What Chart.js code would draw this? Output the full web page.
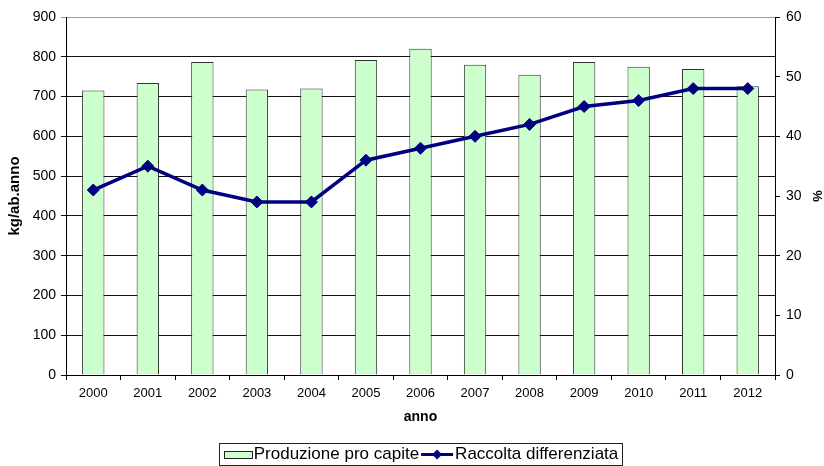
<!DOCTYPE html>
<html>
<head>
<meta charset="utf-8">
<script src="https://cdn.jsdelivr.net/npm/chart.js@4.4.1/dist/chart.umd.min.js"></script>
<style>
html,body{margin:0;padding:0;background:#fff;}
#wrap{width:824px;height:466px;position:relative;}
</style>
</head>
<body>
<div id="wrap"><canvas id="c" width="824" height="466"></canvas></div>
<script>
const categories = ['2000','2001','2002','2003','2004','2005','2006','2007','2008','2009','2010','2011','2012'];
const produzione = [715, 734, 787, 718, 720, 792, 820, 780, 755, 787, 775, 769, 726];
const raccolta = [31, 35, 31, 29, 29, 36, 38, 40, 42, 45, 46, 48, 48];
const leftTicks = {min: 0, max: 900, step: 100};
const rightTicks = {min: 0, max: 60, step: 10};

const FONT = "'Liberation Sans', Arial, sans-serif";
Chart.defaults.font.family = FONT;
Chart.defaults.color = '#000';

const LEG_FONT = 17;
const LEG_BOX = 22.5;
const LEG_PAD = 5;

const legendPlugin = {
  id: 'legendDeco',
  afterLayout(chart) {
    const lg = chart.legend;
    if (!lg) return;
    const dy = 454.5 - (lg.top + LEG_PAD + LEG_FONT / 2);
    const ca = chart.chartArea;
    const dx = (ca.left + ca.right) / 2 - (lg.left + lg.right) / 2;
    lg.top += dy; lg.bottom += dy;
    lg.left += dx; lg.right += dx;
  },
  afterDraw(chart) {
    const lg = chart.legend;
    if (!lg || !lg.legendHitBoxes) return;
    const ctx = chart.ctx;
    const hb = lg.legendHitBoxes;
    const items = lg.legendItems;
    const off = LEG_BOX + LEG_FONT / 2;
    const cy = hb[0].top + hb[0].height / 2;
    ctx.save();
    const t0 = hb[0].left + off;
    const last = hb[hb.length - 1];
    const bl = Math.round(t0 - 35) + 0.5;
    const br = Math.round(last.left + last.width + 4) + 0.5;
    const bt = Math.round(cy - 11.5) + 0.5;
    const bb = 465.5;
    ctx.strokeStyle = '#222';
    ctx.lineWidth = 1;
    ctx.strokeRect(bl, bt, br - bl, bb - bt);
    hb.forEach((b, i) => {
      const tx = b.left + off;
      const ds = chart.data.datasets[items[i].datasetIndex];
      if (ds.type === 'bar') {
        ctx.fillStyle = ds.backgroundColor;
        ctx.fillRect(Math.round(tx - 30), Math.round(cy - 3.5), 29, 8);
        ctx.strokeStyle = '#222';
        ctx.lineWidth = 1;
        ctx.strokeRect(Math.round(tx - 30) + 0.5, Math.round(cy - 3.5) + 0.5, 28, 7);
      } else {
        ctx.strokeStyle = ds.borderColor;
        ctx.lineWidth = 3;
        ctx.beginPath();
        ctx.moveTo(tx - 34, cy);
        ctx.lineTo(tx - 2, cy);
        ctx.stroke();
        ctx.fillStyle = ds.borderColor;
        const cx = tx - 18, s = 5;
        ctx.beginPath();
        ctx.moveTo(cx, cy - s); ctx.lineTo(cx + s, cy); ctx.lineTo(cx, cy + s); ctx.lineTo(cx - s, cy); ctx.closePath();
        ctx.fill();
      }
    });
    ctx.restore();
  }
};

new Chart(document.getElementById('c'), {
  data: {
    labels: categories,
    datasets: [
      {
        type: 'line',
        label: 'Raccolta differenziata',
        data: raccolta,
        yAxisID: 'y1',
        borderColor: '#000080',
        backgroundColor: '#000080',
        borderWidth: 3.5,
        pointStyle: 'rectRot',
        pointRadius: 6,
        pointHoverRadius: 6,
        pointBackgroundColor: '#000080',
        pointBorderColor: '#000080',
        pointBorderWidth: 1,
        tension: 0,
        order: 0
      },
      {
        type: 'bar',
        label: 'Produzione pro capite',
        data: produzione,
        yAxisID: 'y',
        backgroundColor: '#ccffcc',
        borderColor: '#333333',
        borderWidth: 1,
        categoryPercentage: 1.0,
        barPercentage: 0.41,
        order: 1
      }
    ]
  },
  options: {
    responsive: false,
    animation: false,
    layout: {padding: {top: 17, left: 0, right: 0, bottom: 0}},
    plugins: {
      tooltip: {enabled: false},
      legend: {
        position: 'bottom',
        reverse: true,
        labels: {
          boxWidth: LEG_BOX,
          boxHeight: 8,
          padding: LEG_PAD,
          font: {size: LEG_FONT, family: FONT},
          color: '#000',
          generateLabels(chart) {
            return chart.data.datasets.map((ds, i) => ({
              text: ds.label,
              fillStyle: 'rgba(0,0,0,0)',
              strokeStyle: 'rgba(0,0,0,0)',
              lineWidth: 0,
              hidden: false,
              datasetIndex: i
            }));
          }
        }
      }
    },
    scales: {
      x: {
        offset: true,
        grid: {offset: true, drawOnChartArea: false, drawTicks: true, tickLength: 5, color: '#000'},
        border: {color: '#000'},
        ticks: {font: {size: 13}, padding: 6, maxRotation: 0},
        title: {display: true, text: 'anno', font: {size: 14, weight: 'bold'}, padding: {top: 4, bottom: 8}},
        afterFit(s) { s.height = 59; }
      },
      y: {
        position: 'left',
        min: leftTicks.min, max: leftTicks.max,
        ticks: {stepSize: leftTicks.step, font: {size: 14}, padding: 5},
        grid: {
          color: ctx => (ctx.tick && ctx.tick.value === 900) ? '#9a9a9a' : '#111',
          tickLength: 5
        },
        border: {color: '#000'},
        title: {display: true, text: 'kg/ab.anno', font: {size: 15, weight: 'bold'}, padding: {top: 6, bottom: 0}},
        afterFit(s) { s.width = 66; }
      },
      y1: {
        position: 'right',
        min: rightTicks.min, max: rightTicks.max,
        ticks: {stepSize: rightTicks.step, font: {size: 14}, padding: 6},
        grid: {drawOnChartArea: false, tickLength: 5, color: '#000'},
        border: {color: '#000'},
        title: {display: true, text: '%', font: {size: 13, weight: 'bold'}, padding: {top: 0, bottom: 0}},
        afterFit(s) { s.width = 49; }
      }
    }
  },
  plugins: [legendPlugin]
});
</script>
</body>
</html>
